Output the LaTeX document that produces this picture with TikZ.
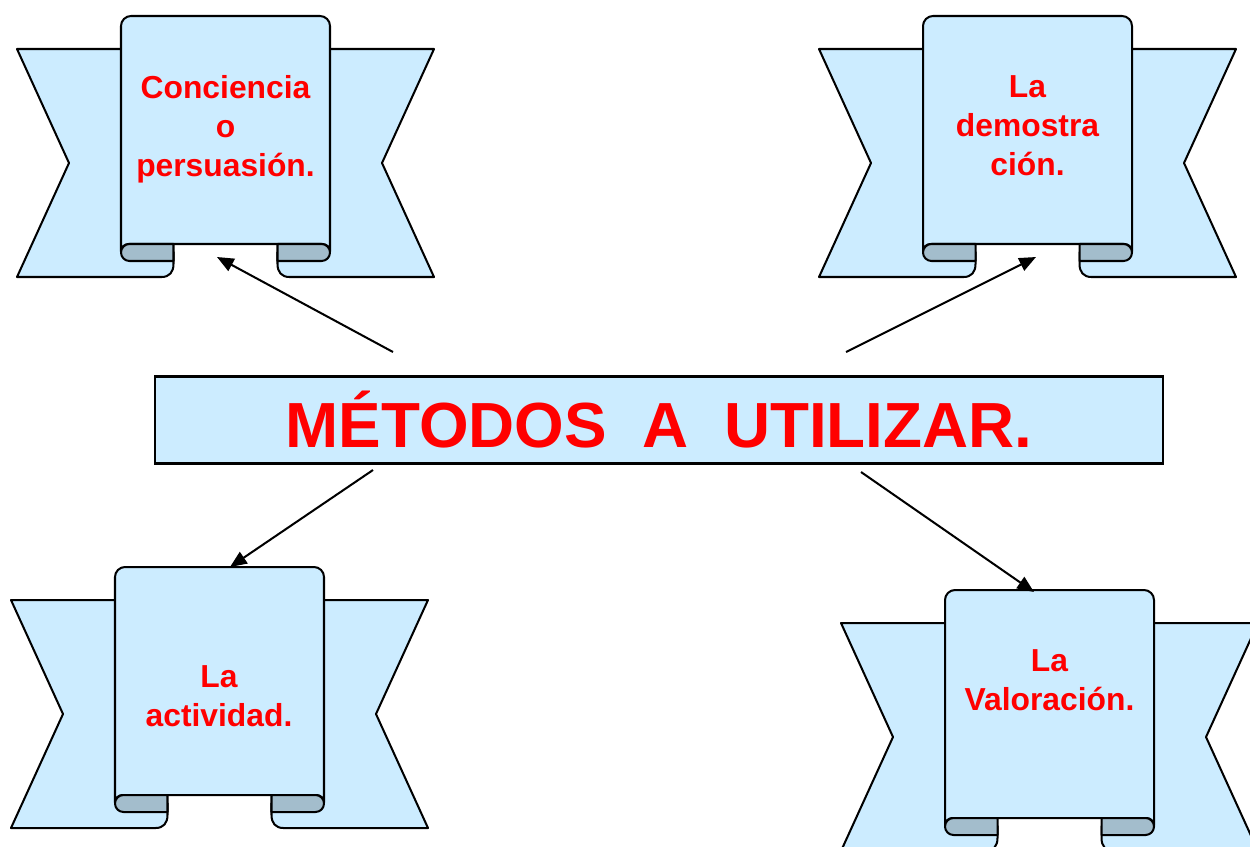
\documentclass[tikz,border=0pt]{standalone}
\usepackage{fontspec}
\setmainfont{Liberation Sans}
\usetikzlibrary{arrows.meta}
\definecolor{ribfill}{HTML}{CCECFF}
\definecolor{ribdark}{HTML}{A3BDCC}
\definecolor{txtred}{HTML}{FF0000}
\tikzset{
  rib/.style={draw=black, fill=ribfill, line width=1.15pt, line join=round},
  ribfold/.style={draw=black, fill=ribdark, line width=1.15pt, line join=round},
  lbl/.style={text=txtred, font=\bfseries\fontsize{18.1}{22.3}\selectfont, align=center, inner sep=0pt, anchor=north},
  titlebox/.style={draw=black, fill=ribfill, line width=1.25pt, minimum width=20.16cm, minimum height=1.74cm, inner sep=0pt,
    text=txtred, font=\bfseries\fontsize{36.3}{40}\selectfont},
  conn/.style={line width=1.15pt, -{Triangle[length=9.5pt, width=7.8pt]}},
  ribbon/.pic={
    % left wing
    \path[rib] (-104,33) -- (20,33) -- (20,236) -- (52.5,236) -- (52.5,248)
      .. controls (52.5,256) and (48.5,261) .. (40.5,261) -- (-104,261) -- (-52,147) -- cycle;
    % right wing
    \path[rib] (313,33) -- (189,33) -- (189,236) -- (156.5,236) -- (156.5,248)
      .. controls (156.5,256) and (160.5,261) .. (168.5,261) -- (313,261) -- (261,147) -- cycle;
    % central panel
    \path[rib] (0,235.5) -- (0,10) .. controls (0,4.5) and (4.5,0) .. (10,0) -- (199,0)
      .. controls (204.5,0) and (209,4.5) .. (209,10) -- (209,235.5)
      .. controls (209,231.4) and (205.6,228) .. (201.5,228) -- (7.5,228)
      .. controls (3.4,228) and (0,231.4) .. (0,235.5) -- cycle;
    % folds
    \path[ribfold] (52.5,228) -- (8.5,228) .. controls (3.8,228) and (0,231.8) .. (0,236.5)
      .. controls (0,241.2) and (3.8,245) .. (8.5,245) -- (52.5,245) -- cycle;
    \path[ribfold] (156.5,228) -- (200.5,228) .. controls (205.2,228) and (209,231.8) .. (209,236.5)
      .. controls (209,241.2) and (205.2,245) .. (200.5,245) -- (156.5,245) -- cycle;
  }
}
\begin{document}
\begin{tikzpicture}[x=0.02cm, y=-0.02cm]
  \clip (0,0) rectangle (1250,846);
  \fill[white] (0,0) rectangle (1250,846);

  \pic at (121,16) {ribbon};
  \pic at (923,16) {ribbon};
  \pic at (115,567) {ribbon};
  \pic at (945,590) {ribbon};

  \node[lbl] (tTL) at (225.5,75) {Conciencia\\o\\persuasión.};
  \node[lbl] (tTR) at (1027.5,75) {La\\demostra\\ción.};
  \node[lbl] (tBL) at (219,665) {La\\actividad.};
  \node[lbl] (tBR) at (1049.5,649) {La\\Valoración.};

  \node[titlebox] (title) at (659,420) {MÉTODOS\ \ A\ \ UTILIZAR.};

  \coordinate (aTL) at (393,352);
  \coordinate (hTL) at (217,257);
  \coordinate (aTR) at (846,352);
  \coordinate (hTR) at (1036,257);
  \coordinate (aBL) at (373,470);
  \coordinate (hBL) at (230,567);
  \coordinate (aBR) at (861,472);
  \coordinate (hBR) at (1034,592);

  \draw[conn] (aTL) -- (hTL);
  \draw[conn] (aTR) -- (hTR);
  \draw[conn] (aBL) -- (hBL);
  \draw[conn] (aBR) -- (hBR);
\end{tikzpicture}
\end{document}
